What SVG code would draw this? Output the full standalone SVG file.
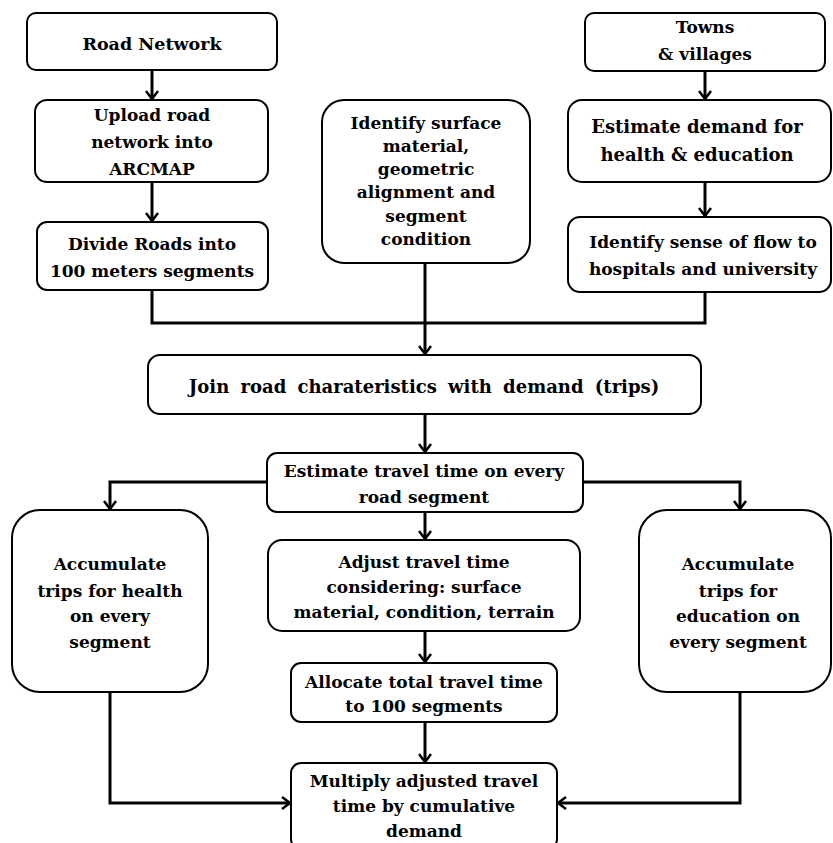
<svg xmlns="http://www.w3.org/2000/svg" width="833" height="843" viewBox="0 0 833 843">
<defs>
<style>
.box{fill:#fff;stroke:#000;stroke-width:2}
.t{font-family:"DejaVu Serif","Liberation Serif",serif;font-weight:bold;font-size:17px;fill:#000;text-anchor:middle}
.c{fill:none;stroke:#000;stroke-width:3}
</style>
<marker id="ah" markerWidth="14" markerHeight="14" refX="10" refY="7" orient="auto" markerUnits="userSpaceOnUse">
<path d="M2,1 L10,7 L2,13" fill="none" stroke="#000" stroke-width="2.5"/>
</marker>
</defs>
<rect width="833" height="843" fill="#fff"/>
<g id="connectors">
<path class="c" d="M152,70 V99" marker-end="url(#ah)"/>
<path class="c" d="M152,182 V221" marker-end="url(#ah)"/>
<path class="c" d="M705,71 V99" marker-end="url(#ah)"/>
<path class="c" d="M705,182 V216" marker-end="url(#ah)"/>
<path class="c" d="M152,290 V323 H705 V292"/>
<path class="c" d="M425,263 V354" marker-end="url(#ah)"/>
<path class="c" d="M425,414 V452" marker-end="url(#ah)"/>
<path class="c" d="M267,482 H110 V509" marker-end="url(#ah)"/>
<path class="c" d="M583,482 H740 V509" marker-end="url(#ah)"/>
<path class="c" d="M425,512 V539" marker-end="url(#ah)"/>
<path class="c" d="M425,631 V662" marker-end="url(#ah)"/>
<path class="c" d="M425,722 V762" marker-end="url(#ah)"/>
<path class="c" d="M110,692 V803 H290" marker-end="url(#ah)"/>
<path class="c" d="M740,692 V803 H558" marker-end="url(#ah)"/>
</g>
<g id="road-network">
<rect class="box" x="27" y="13" width="250" height="57" rx="9"/>
<text class="t" x="152" y="50" style="font-size:17.5px">Road Network</text>
</g>
<g id="upload">
<rect class="box" x="35" y="100" width="233" height="82" rx="12"/>
<text class="t" x="152" y="121">Upload road</text>
<text class="t" x="152" y="148">network into</text>
<text class="t" x="152" y="175">ARCMAP</text>
</g>
<g id="divide">
<rect class="box" x="37" y="222" width="231" height="68" rx="10"/>
<text class="t" x="152" y="250">Divide Roads into</text>
<text class="t" x="152" y="277">100 meters segments</text>
</g>
<g id="identify-surface">
<rect class="box" x="322" y="100" width="208" height="163" rx="22"/>
<text class="t" x="426" y="129">Identify surface</text>
<text class="t" x="426" y="152">material,</text>
<text class="t" x="426" y="175">geometric</text>
<text class="t" x="426" y="198">alignment and</text>
<text class="t" x="426" y="222">segment</text>
<text class="t" x="426" y="245">condition</text>
</g>
<g id="towns">
<rect class="box" x="585" y="13" width="240" height="58" rx="9"/>
<text class="t" x="705" y="33">Towns</text>
<text class="t" x="705" y="60">&amp; villages</text>
</g>
<g id="estimate-demand">
<rect class="box" x="568" y="100" width="263" height="82" rx="14"/>
<text class="t" x="697" y="133" style="font-size:18px">Estimate demand for</text>
<text class="t" x="697" y="161" style="font-size:18px">health &amp; education</text>
</g>
<g id="identify-flow">
<rect class="box" x="568" y="217" width="263" height="75" rx="12"/>
<text class="t" x="703" y="248">Identify sense of flow to</text>
<text class="t" x="703" y="275">hospitals and university</text>
</g>
<g id="join">
<rect class="box" x="148" y="355" width="553" height="59" rx="12"/>
<text class="t" x="424" y="393" style="font-size:18px;word-spacing:5px">Join road charateristics with demand (trips)</text>
</g>
<g id="estimate-travel">
<rect class="box" x="267" y="453" width="316" height="59" rx="10"/>
<text class="t" x="424" y="477">Estimate travel time on every</text>
<text class="t" x="424" y="503">road segment</text>
</g>
<g id="health">
<rect class="box" x="12" y="510" width="196" height="182" rx="28"/>
<text class="t" x="110" y="570">Accumulate</text>
<text class="t" x="110" y="597">trips for health</text>
<text class="t" x="110" y="622">on every</text>
<text class="t" x="110" y="648">segment</text>
</g>
<g id="education">
<rect class="box" x="639" y="510" width="192" height="182" rx="28"/>
<text class="t" x="738" y="570">Accumulate</text>
<text class="t" x="738" y="597">trips for</text>
<text class="t" x="738" y="622">education on</text>
<text class="t" x="738" y="648">every segment</text>
</g>
<g id="adjust">
<rect class="box" x="268" y="540" width="312" height="91" rx="14"/>
<text class="t" x="424" y="568">Adjust travel time</text>
<text class="t" x="424" y="593">considering: surface</text>
<text class="t" x="424" y="618">material, condition, terrain</text>
</g>
<g id="allocate">
<rect class="box" x="291" y="663" width="266" height="59" rx="10"/>
<text class="t" x="424" y="688">Allocate total travel time</text>
<text class="t" x="424" y="712">to 100 segments</text>
</g>
<g id="multiply">
<rect class="box" x="291" y="763" width="266" height="86" rx="10"/>
<text class="t" x="424" y="787">Multiply adjusted travel</text>
<text class="t" x="424" y="812">time by cumulative</text>
<text class="t" x="424" y="837">demand</text>
</g>
</svg>
